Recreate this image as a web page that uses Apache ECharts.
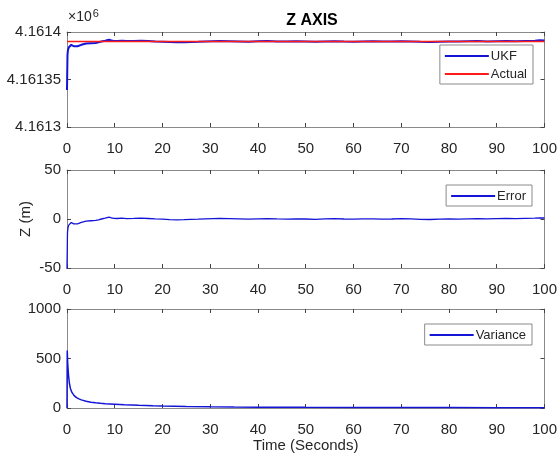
<!DOCTYPE html>
<html>
<head>
<meta charset="utf-8">
<title>Z AXIS</title>
<script src="https://cdn.jsdelivr.net/npm/echarts@6/dist/echarts.min.js"></script>
<style>
  html, body { margin: 0; padding: 0; background: #fff; }
  #chart { width: 560px; height: 457px; }
</style>
</head>
<body>
<div id="chart"></div>
<script>
// Filter time stamps (s) for the UKF estimate and its error
const timeS = [0, 0.1, 0.2, 0.3, 0.4, 0.5, 0.7, 0.9, 1.1, 1.4, 1.8, 2.2, 2.6, 3.0, 3.4, 4.0, 5.0, 6.0, 6.6, 7.2,
  8.0, 8.8, 9.3, 9.8, 10.5, 11.5, 12.5, 14, 15.5, 17, 18.5, 20, 21.5, 23, 24.5, 26, 27.5, 29, 30.5,
  32, 34, 36, 38, 40, 42, 44, 46, 48, 50, 52, 54, 56, 58, 60, 62, 64, 66, 68, 70, 72, 74, 76, 78, 80,
  82, 84, 86, 88, 90, 92, 94, 96, 98, 99, 100];

// UKF estimate of Z position (m)
const ukfZ = [4161339, 4161376, 4161381, 4161379, 4161384, 4161382, 4161385, 4161386.5, 4161384.5, 4161385,
  4161384.5, 4161385, 4161384.8, 4161386.5, 4161387.5, 4161387.8, 4161388.2, 4161388.5, 4161389.2, 4161390,
  4161390.8, 4161391.8, 4161391.2, 4161390.6, 4161390.5, 4161390.8, 4161390.4, 4161390.6, 4161390.9, 4161390.5,
  4161390.1, 4161389.8, 4161389.4, 4161389.2, 4161389.3, 4161389.6, 4161389.8, 4161390.1, 4161390.3,
  4161390.5, 4161390.3, 4161390.1, 4161389.8, 4161390.2, 4161390.4, 4161390.1, 4161389.9, 4161390.2, 4161390,
  4161389.7, 4161390.1, 4161390.3, 4161390, 4161389.8, 4161390.1, 4161390.2, 4161389.9, 4161390, 4161390.3,
  4161390.1, 4161389.7, 4161389.5, 4161389.8, 4161390, 4161389.9, 4161390.2, 4161390.4, 4161390.1, 4161390.3,
  4161390.5, 4161390.3, 4161390.6, 4161390.9, 4161391.2, 4161391];

// True Z position (m)
const actualT = [0, 100];
const actualZ = [4161390, 4161390];

// Estimation error (m)
const errZ = [-51, -14, -9, -11, -6, -8, -5, -3.5, -5.5, -5, -5.5, -5, -5.2, -3.5, -2.5, -2.2, -1.8, -1.5, -0.8, 0,
  0.8, 1.8, 1.2, 0.6, 0.5, 0.8, 0.4, 0.6, 0.9, 0.5, 0.1, -0.2, -0.6, -0.8, -0.7, -0.4, -0.2, 0.1, 0.3,
  0.5, 0.3, 0.1, -0.2, 0.2, 0.4, 0.1, -0.1, 0.2, 0, -0.3, 0.1, 0.3, 0, -0.2, 0.1, 0.2, -0.1, 0, 0.3,
  0.1, -0.3, -0.5, -0.2, 0, -0.1, 0.2, 0.4, 0.1, 0.3, 0.5, 0.3, 0.6, 0.9, 1.2, 1.0];

// Filter variance
const varT = [0, 0.05, 0.15, 0.3, 0.5, 0.7, 1.0, 1.5, 2, 2.5, 3, 4, 5, 6, 7, 8, 10, 12, 15, 18, 20, 25, 30, 35,
  40, 50, 60, 70, 80, 90, 100];
const varZ = [0, 580, 450, 340, 250, 200, 160, 125, 105, 92, 82, 68, 58, 52, 47, 43, 38, 33, 27, 22, 19, 15, 12, 10,
  8.5, 6.5, 5.5, 4.5, 4, 3.5, 3];

// Axis tick labels
const timeTicks = [0, 10, 20, 30, 40, 50, 60, 70, 80, 90, 100];
const topTicks = [4161300, 4161350, 4161400];
const errTicks = [-50, 0, 50];
const varTicks = [0, 500, 1000];

const pairs = (xs, ys) => xs.map((x, i) => [x, ys[i]]);

const FONT = 'Liberation Sans, Arial, Helvetica, sans-serif';
const TXT = '#262626';
const AX = '#8a8a8a';
const BLUE = '#1414d6';
const RED = '#ff1a1a';

const grids = [
  { left: 67, right: 13, top: 32, height: 95 },
  { left: 67, right: 13, top: 170, height: 98 },
  { left: 67, right: 13, top: 309, height: 99 }
];

const tickStyle = { show: true, inside: true, length: 4, lineStyle: { color: '#444' } };
const lineStyleAx = { show: true, onZero: false, lineStyle: { color: AX, width: 1 } };

function xAxes(gi, withName) {
  return [
    {
      type: 'value', gridIndex: gi, position: 'bottom', min: 0, max: 100, interval: 10,
      axisLine: lineStyleAx, axisTick: tickStyle,
      axisLabel: { show: true, margin: 14, color: TXT, fontSize: 15, fontFamily: FONT,
        formatter: v => (timeTicks.indexOf(v) >= 0 ? String(v) : '') },
      splitLine: { show: false },
      name: withName ? 'Time (Seconds)' : '',
      nameLocation: 'middle', nameGap: 30, nameMoveOverlap: false,
      nameTextStyle: { color: TXT, fontSize: 15, fontFamily: FONT }
    },
    {
      type: 'value', gridIndex: gi, position: 'top', min: 0, max: 100, interval: 10,
      axisLine: lineStyleAx, axisTick: tickStyle,
      axisLabel: { show: false }, splitLine: { show: false }
    }
  ];
}

function yAxes(gi, min, max, interval, ticks, fmt, name) {
  return [
    {
      type: 'value', gridIndex: gi, position: 'left', min: min, max: max, interval: interval,
      axisLine: lineStyleAx, axisTick: tickStyle,
      axisLabel: { show: true, margin: 6, color: TXT, fontSize: 15, fontFamily: FONT,
        formatter: v => (ticks.indexOf(v) >= 0 ? fmt(v) : '') },
      splitLine: { show: false },
      name: name || '', nameLocation: 'middle', nameGap: 34, nameMoveOverlap: false,
      nameTextStyle: { color: TXT, fontSize: 15, fontFamily: FONT }
    },
    {
      type: 'value', gridIndex: gi, position: 'right', min: min, max: max, interval: interval,
      axisLine: lineStyleAx, axisTick: tickStyle,
      axisLabel: { show: false }, splitLine: { show: false }
    }
  ];
}

const legendBase = {
  orient: 'vertical',
  icon: 'rect',
  backgroundColor: '#fff',
  borderColor: AX,
  borderWidth: 1,
  borderRadius: 0,
  itemWidth: 44,
  itemHeight: 2,
  itemGap: 4,
  padding: [4, 6, 3, 5],
  textStyle: { color: TXT, fontSize: 13, lineHeight: 14, fontFamily: FONT, padding: [0, 0, 0, -3] }
};

const option = {
  backgroundColor: '#fff',
  animation: false,
  title: {
    text: 'Z AXIS', left: 307, top: 8, textAlign: 'center',
    textStyle: { color: '#000', fontSize: 16, fontWeight: 'bold', fontFamily: FONT }
  },
  graphic: [{
    type: 'text', left: 68, top: 8,
    style: {
      text: '×10{s|6}',
      rich: { s: { fontSize: 11, verticalAlign: 'top', padding: [0, 0, 7, 1], fill: TXT, fontFamily: FONT } },
      fontSize: 14, fill: TXT, fontFamily: FONT
    }
  }],
  grid: grids,
  xAxis: [...xAxes(0, false), ...xAxes(1, false), ...xAxes(2, true)],
  yAxis: [
    ...yAxes(0, 4161300, 4161400, 50, topTicks, v => parseFloat((v / 1e6).toFixed(5)).toString()),
    ...yAxes(1, -50, 50, 50, errTicks, v => String(v), 'Z (m)'),
    ...yAxes(2, 0, 1000, 500, varTicks, v => String(v))
  ],
  legend: [
    Object.assign({}, legendBase, { data: ['UKF', 'Actual'], right: 27, top: 45 }),
    Object.assign({}, legendBase, { data: ['Error'], right: 28, top: 185 }),
    Object.assign({}, legendBase, { data: ['Variance'], right: 28, top: 324 })
  ],
  series: [
    {
      name: 'UKF', type: 'line', xAxisIndex: 0, yAxisIndex: 0, symbol: 'none', clip: true,
      data: pairs(timeS, ukfZ), lineStyle: { color: BLUE, width: 2 }, itemStyle: { color: BLUE }
    },
    {
      name: 'Actual', type: 'line', xAxisIndex: 0, yAxisIndex: 0, symbol: 'none', clip: true,
      data: pairs(actualT, actualZ), lineStyle: { color: RED, width: 1.5 }, itemStyle: { color: RED }
    },
    {
      name: 'Error', type: 'line', xAxisIndex: 2, yAxisIndex: 2, symbol: 'none', clip: true,
      data: pairs(timeS, errZ), lineStyle: { color: BLUE, width: 1.3 }, itemStyle: { color: BLUE }
    },
    {
      name: 'Variance', type: 'line', xAxisIndex: 4, yAxisIndex: 4, symbol: 'none', clip: true,
      data: pairs(varT, varZ), lineStyle: { color: BLUE, width: 1.5 }, itemStyle: { color: BLUE }
    }
  ]
};

const chart = echarts.init(document.getElementById('chart'), null, { renderer: 'canvas' });
chart.setOption(option);
</script>
</body>
</html>
